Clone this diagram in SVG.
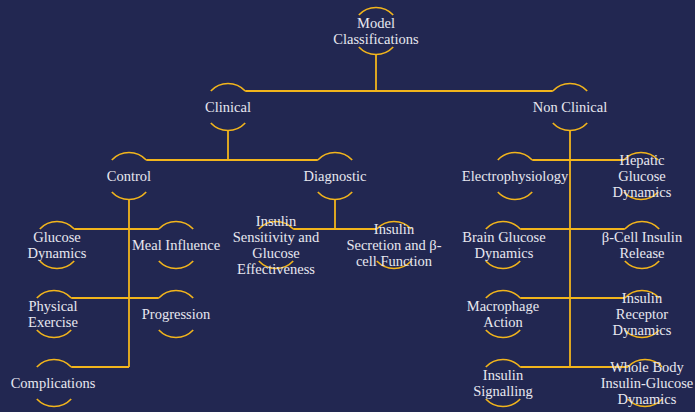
<svg xmlns="http://www.w3.org/2000/svg" width="695" height="412" viewBox="0 0 695 412">
<defs>
<style>
.bg{fill:#222751}
.ln{stroke:#f2b51c;stroke-width:1.8;fill:none}
.arc{stroke:#f2b51c;stroke-width:1.6;fill:none}
.t{font-family:"Liberation Serif","Times New Roman",serif;font-size:14.5px;fill:#e8e8f0;text-anchor:middle}
</style>
<path id="ring" d="M-17.2,-16 A23.5,23.5 0 0 1 17.2,-16 M-17.2,16 A23.5,23.5 0 0 0 17.2,16"/>
</defs>
<rect class="bg" x="0" y="0" width="695" height="412"/>
<g id="connectors" class="ln">
<path d="M376,54.5 V91"/>
<path d="M245.2,91 H552.8"/>
<path d="M228,130.5 V160"/>
<path d="M146.2,160 H317.8"/>
<path d="M129,199.5 V367"/>
<path d="M74.2,229 H158.8"/>
<path d="M71.2,298 H158.8"/>
<path d="M71.2,367 H129"/>
<path d="M335,199.5 V229"/>
<path d="M293.2,229 H376.8"/>
<path d="M570,130.5 V367"/>
<path d="M532.2,160 H623.8"/>
<path d="M520.2,229 H624.8"/>
<path d="M520.2,298 H624.8"/>
<path d="M520.2,367 H627.8"/>
</g>
<g id="model">
<use href="#ring" class="arc" x="376" y="31"/>
<text class="t" x="376" y="27.5">Model</text>
<text class="t" x="376" y="43.5">Classifications</text>
</g>
<g id="clinical">
<use href="#ring" class="arc" x="228" y="107"/>
<text class="t" x="228" y="111.5">Clinical</text>
</g>
<g id="nonclinical">
<use href="#ring" class="arc" x="570" y="107"/>
<text class="t" x="570" y="111.5">Non Clinical</text>
</g>
<g id="control">
<use href="#ring" class="arc" x="129" y="176"/>
<text class="t" x="129" y="180.5">Control</text>
</g>
<g id="diagnostic">
<use href="#ring" class="arc" x="335" y="176"/>
<text class="t" x="335" y="180.5">Diagnostic</text>
</g>
<g id="electrophysiology">
<use href="#ring" class="arc" x="515" y="176"/>
<text class="t" x="515" y="180.5">Electrophysiology</text>
</g>
<g id="hepatic">
<use href="#ring" class="arc" x="641" y="176"/>
<text class="t" x="642" y="164.5">Hepatic</text>
<text class="t" x="642" y="180.5">Glucose</text>
<text class="t" x="642" y="196.5">Dynamics</text>
</g>
<g id="glucose-dynamics">
<use href="#ring" class="arc" x="57" y="245"/>
<text class="t" x="57" y="241.5">Glucose</text>
<text class="t" x="57" y="257.5">Dynamics</text>
</g>
<g id="meal">
<use href="#ring" class="arc" x="176" y="245"/>
<text class="t" x="176" y="249.5">Meal Influence</text>
</g>
<g id="sensitivity">
<use href="#ring" class="arc" x="276" y="245"/>
<text class="t" x="276" y="225.5">Insulin</text>
<text class="t" x="276" y="241.5">Sensitivity and</text>
<text class="t" x="276" y="257.5">Glucose</text>
<text class="t" x="276" y="273.5">Effectiveness</text>
</g>
<g id="secretion">
<use href="#ring" class="arc" x="394" y="245"/>
<text class="t" x="394" y="233.5">Insulin</text>
<text class="t" x="394" y="249.5">Secretion and β-</text>
<text class="t" x="394" y="265.5">cell Function</text>
</g>
<g id="brain">
<use href="#ring" class="arc" x="503" y="245"/>
<text class="t" x="504" y="241.5">Brain Glucose</text>
<text class="t" x="504" y="257.5">Dynamics</text>
</g>
<g id="beta-cell">
<use href="#ring" class="arc" x="642" y="245"/>
<text class="t" x="642" y="241.5">β-Cell Insulin</text>
<text class="t" x="642" y="257.5">Release</text>
</g>
<g id="physical">
<use href="#ring" class="arc" x="54" y="314"/>
<text class="t" x="53" y="310.5">Physical</text>
<text class="t" x="53" y="326.5">Exercise</text>
</g>
<g id="progression">
<use href="#ring" class="arc" x="176" y="314"/>
<text class="t" x="176" y="318.5">Progression</text>
</g>
<g id="macrophage">
<use href="#ring" class="arc" x="503" y="314"/>
<text class="t" x="503" y="310.5">Macrophage</text>
<text class="t" x="503" y="326.5">Action</text>
</g>
<g id="receptor">
<use href="#ring" class="arc" x="642" y="314"/>
<text class="t" x="642" y="302.5">Insulin</text>
<text class="t" x="642" y="318.5">Receptor</text>
<text class="t" x="642" y="334.5">Dynamics</text>
</g>
<g id="complications">
<use href="#ring" class="arc" x="54" y="383"/>
<text class="t" x="53" y="387.5">Complications</text>
</g>
<g id="signalling">
<use href="#ring" class="arc" x="503" y="383"/>
<text class="t" x="503" y="379.5">Insulin</text>
<text class="t" x="503" y="395.5">Signalling</text>
</g>
<g id="whole-body">
<use href="#ring" class="arc" x="645" y="383"/>
<text class="t" x="647" y="371.5">Whole Body</text>
<text class="t" x="647" y="387.5">Insulin-Glucose</text>
<text class="t" x="647" y="403.5">Dynamics</text>
</g>
</svg>
